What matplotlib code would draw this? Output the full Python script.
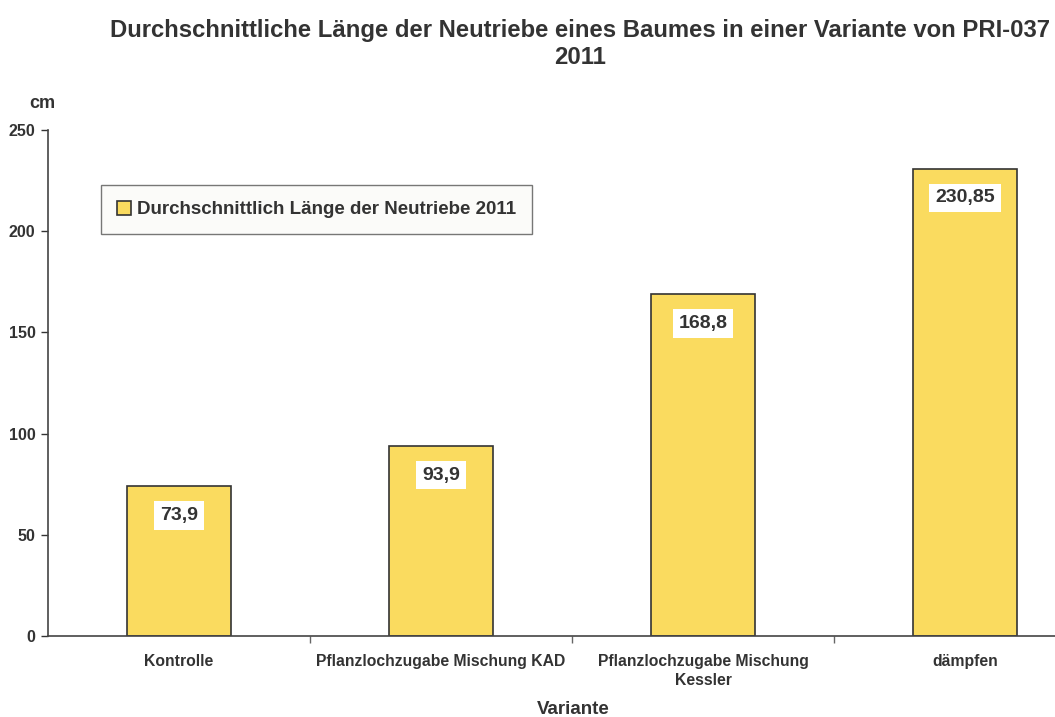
import matplotlib
matplotlib.use("Agg")
import matplotlib.pyplot as plt
import numpy as np

categories = ["Kontrolle", "Pflanzlochzugabe Mischung KAD", "Pflanzlochzugabe Mischung\nKessler", "dämpfen"]
values = [73.9, 93.9, 168.8, 230.85]
value_labels = ["73,9", "93,9", "168,8", "230,85"]
series_name = "Durchschnittlich Länge der Neutriebe 2011"
yticks = [0, 50, 100, 150, 200, 250]

plt.rcParams['font.family'] = ['Liberation Sans', 'DejaVu Sans']
txt = '#333333'

fig = plt.figure(figsize=(10.55, 7.17), dpi=100)
ax = fig.add_axes([48/1055, 81/717, 1 - 48/1055, 506/717])

x = np.arange(len(categories))
bars = ax.bar(x, values, width=0.4, color='#FADB5F', edgecolor='#333333', linewidth=1.2,
              label=series_name, zorder=2)

for xi, v, lab in zip(x, values, value_labels):
    ax.annotate(lab, (xi, v), xytext=(0, -21), textcoords='offset points',
                ha='center', va='center', fontsize=14, fontweight='bold', color=txt,
                bbox=dict(boxstyle='square,pad=0.3', fc='white', ec='none'), zorder=3)

ax.set_xlim(-0.5, (1055 - 48) / 262 - 0.5)
ax.set_ylim(0, 250)
ax.set_yticks(yticks)
ax.set_yticklabels([str(t) for t in yticks], fontsize=11.5, fontweight='bold', color=txt)
ax.set_xticks(x)
ax.set_xticklabels(categories, fontsize=11.3, fontweight='bold', color=txt, linespacing=1.3)
ax.set_xticks([0.5, 1.5, 2.5], minor=True)
ax.tick_params(axis='x', which='major', length=0, pad=13)
ax.tick_params(axis='x', which='minor', length=5, width=1, color='#666666', direction='out')
ax.tick_params(axis='y', length=5, width=1, color='#333333', direction='out', pad=4)

for s in ['top', 'right']:
    ax.spines[s].set_visible(False)
for s in ['left', 'bottom']:
    ax.spines[s].set_color('#444444')
    ax.spines[s].set_linewidth(1.2)

fig.text(573/1055, 1 - 710/717, "Variante", fontsize=13.5, fontweight='bold', color=txt,
         ha='center', va='center')
fig.text(42/1055, 1 - 104/717, "cm", fontsize=13, fontweight='bold', color=txt, ha='center', va='center')

fig.text(580/1055, 1 - 30/717, "Durchschnittliche Länge der Neutriebe eines Baumes in einer Variante von PRI-037",
         fontsize=17.2, fontweight='bold', color=txt, ha='center', va='center')
fig.text(580/1055, 1 - 57/717, "2011",
         fontsize=17.2, fontweight='bold', color=txt, ha='center', va='center')

leg = ax.legend(loc='upper left', bbox_to_anchor=(101/1055, 1 - 185/717), bbox_transform=fig.transFigure,
                frameon=True, fancybox=False, fontsize=13.5, handlelength=0.75, handleheight=0.75,
                handletextpad=0.3, borderpad=0.85, borderaxespad=0)
leg.get_frame().set_edgecolor('#555555')
leg.get_frame().set_facecolor('#FAFAF8')
leg.get_frame().set_linewidth(1.0)
for t in leg.get_texts():
    t.set_fontweight('bold')
    t.set_color(txt)

fig.savefig("out.png", dpi=100, facecolor='white')
